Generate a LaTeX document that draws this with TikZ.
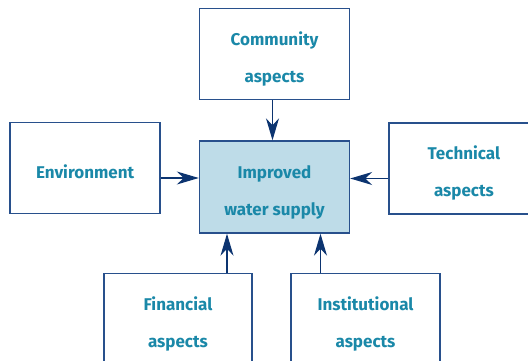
\documentclass[tikz,border=0pt]{standalone}
\usepackage{fontspec}
\setmainfont{Fira Sans}
\usepackage{xcolor}
\usetikzlibrary{arrows.meta,positioning}

\definecolor{boxline}{RGB}{40,80,140}
\definecolor{arrowblue}{RGB}{12,52,112}
\definecolor{labelteal}{RGB}{26,136,168}
\definecolor{centrefill}{RGB}{190,220,232}

\begin{document}
\begin{tikzpicture}[
    x=1pt, y=1pt,
    box/.style={draw=boxline, line width=1.4pt, rectangle, minimum width=150pt, minimum height=91pt, align=center, text=labelteal, font=\fontsize{17}{37}\selectfont\bfseries, text height=60pt, text depth=3.5pt},
    arr/.style={draw=arrowblue, line width=1.3pt, -{Stealth[length=22pt, width=13pt, inset=7pt]}}
]
    \useasboundingbox (0,0) rectangle (528,-361);
    \clip (0,0) rectangle (528,-361);

    \node[box, fill=centrefill, minimum height=92pt] (water) at (274.5,-187) {Improved\\water supply};
    \node[box, above=40pt of water] (community) {Community\\aspects};
    \node[box, left=38pt of water, yshift=19pt, text height=21pt, text depth=0pt] (environment) {Environment};
    \node[box, right=38pt of water, yshift=18.5pt] (technical) {Technical\\aspects};
    \node[box, below=39pt of water, xshift=-96.5pt, minimum width=148pt] (financial) {Financial\\aspects};
    \node[box, below=39pt of water, xshift=91pt, minimum width=149pt] (institutional) {Institutional\\aspects};

    \draw[arr] ([xshift=-2pt]community.south) -- ([xshift=-2pt]water.north);
    \draw[arr] ([yshift=-10pt]environment.east) -- ([yshift=-10pt]environment.east -| water.west);
    \draw[arr] ([yshift=-10pt]technical.west) -- ([yshift=-10pt]technical.west -| water.east);
    \draw[arr] ([xshift=49pt]financial.north) -- ([xshift=49pt]financial.north |- water.south);
    \draw[arr] ([xshift=-45pt]institutional.north) -- ([xshift=-45pt]institutional.north |- water.south);
\end{tikzpicture}
\end{document}
